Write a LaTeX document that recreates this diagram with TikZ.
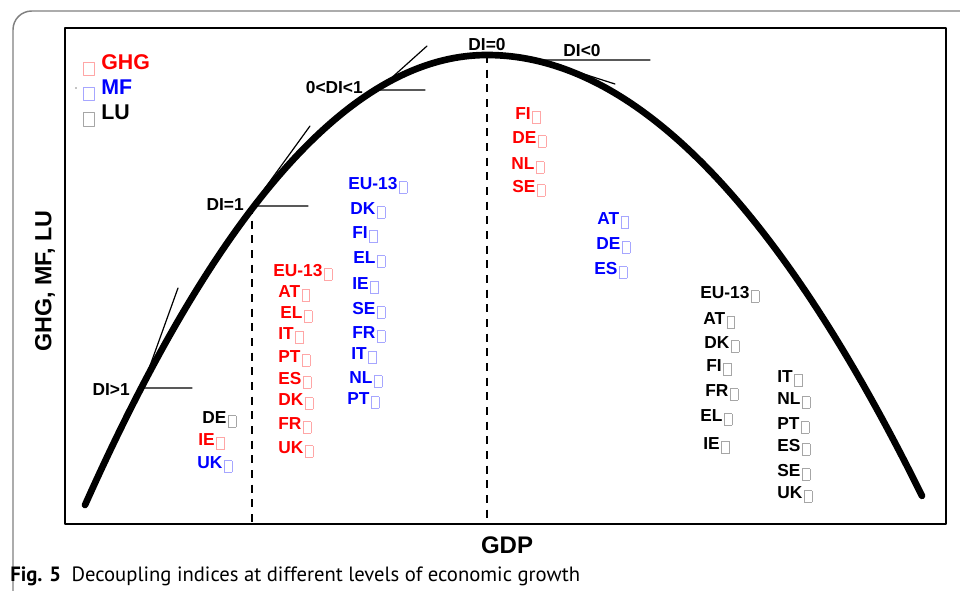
\documentclass[tikz,border=0pt]{standalone}
\usepackage{fontspec}
\setmainfont{Liberation Sans}
\newfontfamily\capfont{PT Sans}
\newcommand\gbox[1]{\kern1.2pt{\color{#1}\fboxsep=0pt\fboxrule=0.5pt\raisebox{-3pt}{\framebox[6.3pt]{\rule{0pt}{8.3pt}}}}}
\begin{document}
\begin{tikzpicture}[x=0.75pt,y=-0.75pt,line join=round,line cap=round,
	ctry/.style={font=\fontsize{13}{15}\selectfont\bfseries,anchor=base west,inner sep=0pt},
	dilab/.style={font=\fontsize{13}{15}\selectfont\bfseries,inner sep=0pt},
	leg/.style={font=\fontsize{16}{18}\selectfont\bfseries,anchor=west,inner sep=0pt},
	tang/.style={line width=0.9pt}]
			\def \xmin{65};
			\def \xmax{946};
			\def \ymin{28};
			\def \ymax{524};
			\useasboundingbox (0,0) rectangle (960,590);
			\clip (0,0) rectangle (960,590);
			\draw[black!50,line width=1.1pt,rounded corners=14] (13,620)--(13,11)--(990,11);
			\draw[line width=1.3pt] (\xmin,\ymin) rectangle (\xmax,\ymax);
			\draw[line width=5pt,smooth] plot[domain=85:487,samples=80] (\x,{55+27.85*((\x-487)/100)^2})
				-- plot[domain=487:922,samples=80] (\x,{55+23.3*((\x-487)/100)^2});
			\coordinate (p1) at (142,388);
			\coordinate (p2) at (252,206);
			\coordinate (p3) at (378,90);
			\coordinate (p0) at (487,55);
			\coordinate (p4) at (540,60);
			\coordinate (t1) at (178,288);
			\coordinate (t2) at (310,126);
			\coordinate (t3) at (427,46);
			\coordinate (t4) at (615,84);
			\coordinate (h1) at (192,388);
			\coordinate (h2) at (308,206);
			\coordinate (h3) at (425,90);
			\coordinate (h4) at (650,60);
			\coordinate (b2) at (252,\ymax);
			\coordinate (b0) at (487,\ymax);
			\draw[tang] (p1)--(t1) (p1)--(h1);
			\draw[tang] (p2)--(t2) (p2)--(h2);
			\draw[tang] (p3)--(t3) (p3)--(h3);
			\draw[tang] (p4)--(t4) (p4)--(h4);
			\draw[line width=1pt,dash pattern=on 6pt off 5pt,line cap=butt] (p2)--(b2) (p0)--(b0);
			\node[dilab,anchor=east] (di1) at (130,390) {DI>1};
			\node[dilab,anchor=east] (di2) at (244,205) {DI=1};
			\node[dilab,anchor=east] (di3) at (363,88) {0<DI<1};
			\node[dilab] (di0) at (487,45) {DI=0};
			\node[dilab] (di4) at (582,51) {DI<0};
			\draw[red!35,line width=0.6pt] (83,62) rectangle (94,75);
			\draw[blue!35,line width=0.6pt] (83,87) rectangle (94,100);
			\draw[black!35,line width=0.6pt] (83,112) rectangle (94,126);
			\fill (76,88) circle (0.6);
			\node[leg,red] (legG) at (101,62) {GHG};
			\node[leg,blue] (legM) at (101,87) {MF};
			\node[leg] (legL) at (101,112) {LU};
			\node[font=\fontsize{17.5}{19}\selectfont\bfseries,rotate=90] (ylab) at (45,281) {GHG, MF, LU};
			\node[font=\fontsize{18}{20}\selectfont\bfseries] (xlab) at (507,545) {GDP};
			\foreach \t/\xx/\yy [count=\i] in {DE/202/417}
				\node[ctry] (luA\i) at (\xx,\yy+6) {\t\gbox{black!35}};
			\foreach \t/\xx/\yy [count=\i] in {IE/198/439}
				\node[ctry,red] (ghgA\i) at (\xx,\yy+6) {\t\gbox{red!35}};
			\foreach \t/\xx/\yy [count=\i] in {UK/197/462}
				\node[ctry,blue] (mfA\i) at (\xx,\yy+6) {\t\gbox{blue!35}};
			\foreach \t/\xx/\yy [count=\i] in {EU-13/273/270,AT/278/291,EL/280/312,IT/278/333,PT/278/356,ES/278/378,DK/278/399,FR/278/423,UK/278/447}
				\node[ctry,red] (ghgB\i) at (\xx,\yy+6) {\t\gbox{red!35}};
			\foreach \t/\xx/\yy [count=\i] in {EU-13/348/183,DK/350/208,FI/352/232,EL/353/257,IE/352/283,SE/352/308,FR/352/332,IT/351/353,NL/349/377,PT/347/398}
				\node[ctry,blue] (mfB\i) at (\xx,\yy+6) {\t\gbox{blue!35}};
			\foreach \t/\xx/\yy [count=\i] in {FI/515/113,DE/512/137,NL/511/163,SE/512/186}
				\node[ctry,red] (ghgC\i) at (\xx,\yy+6) {\t\gbox{red!35}};
			\foreach \t/\xx/\yy [count=\i] in {AT/597/218,DE/596/243,ES/594/268}
				\node[ctry,blue] (mfC\i) at (\xx,\yy+6) {\t\gbox{blue!35}};
			\foreach \t/\xx/\yy [count=\i] in {EU-13/700/292,AT/703/318,DK/704/342,FI/706/365,FR/705/390,EL/700/415,IE/703/443}
				\node[ctry] (luB\i) at (\xx,\yy+6) {\t\gbox{black!35}};
			\foreach \t/\xx/\yy [count=\i] in {IT/777/376,NL/777/398,PT/777/423,ES/777/445,SE/777/470,UK/777/492}
				\node[ctry] (luC\i) at (\xx,\yy+6) {\t\gbox{black!35}};
			\node[anchor=base west,inner sep=0pt,font=\capfont\fontsize{15.5}{17}\selectfont] (cap) at (10,581)
				{\textbf{Fig. 5}\enspace Decoupling indices at different levels of economic growth};
		\end{tikzpicture}
\end{document}
